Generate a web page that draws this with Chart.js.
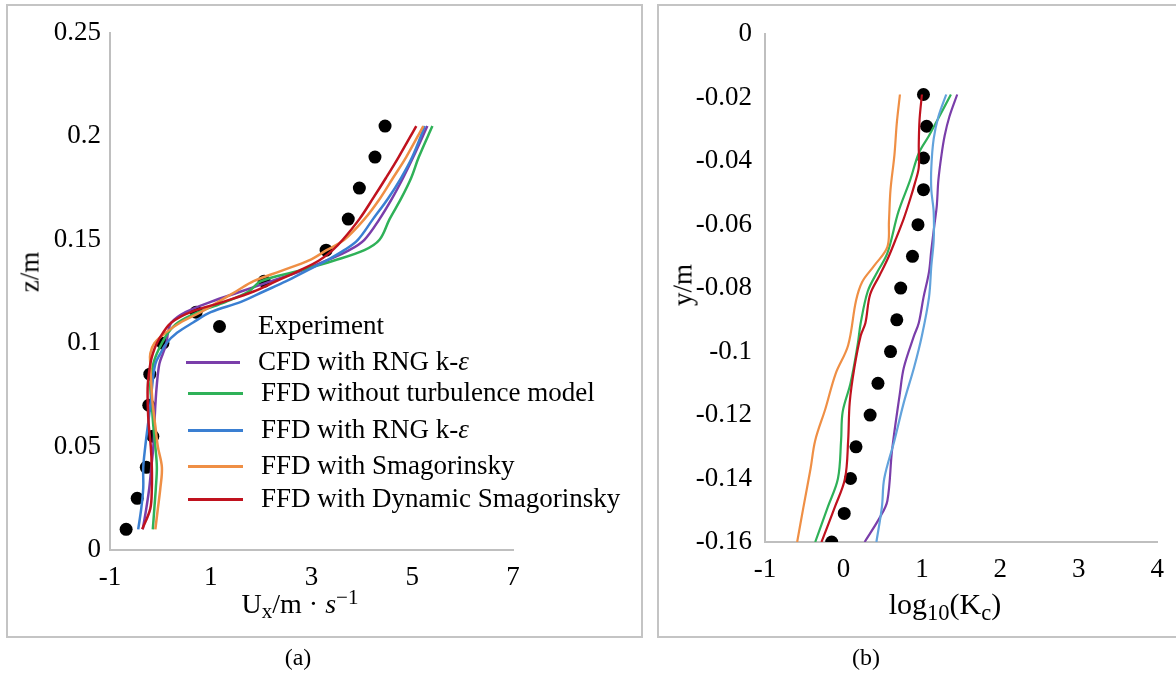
<!DOCTYPE html>
<html><head><meta charset="utf-8">
<script src="https://cdn.jsdelivr.net/npm/chart.js@4.4.1/dist/chart.umd.min.js"></script>
<style>
body{margin:0;background:#fff;width:1176px;height:675px;overflow:hidden;position:relative;font-family:'Liberation Serif','Times New Roman',serif;}
.box{position:absolute;border:2px solid #c4c4c4;box-sizing:border-box;}
canvas{position:absolute;}
.t{position:absolute;font-size:27px;color:#000;white-space:nowrap;line-height:1;transform:translate(-50%,-50%);}
.t sub{font-size:0.75em;vertical-align:-0.25em;line-height:0;}
.t sup{font-size:0.75em;vertical-align:0.45em;line-height:0;}
.lg{position:absolute;font-size:27px;white-space:nowrap;line-height:1;}
.lgline{position:absolute;height:3px;}
.lgdot{position:absolute;width:13px;height:13px;border-radius:50%;background:#000;}
</style></head><body>
<div class="box" style="left:6px;top:4px;width:637px;height:634px"></div>
<div class="box" style="left:657px;top:4px;width:560px;height:634px"></div>
<canvas id="ca" width="635" height="632" style="left:7px;top:5px"></canvas>
<canvas id="cb" width="518" height="632" style="left:658px;top:5px"></canvas>
<div class="t" style="left:30px;top:272px;transform:translate(-50%,-50%) rotate(-90deg)">z/m</div>
<div class="t" style="left:300px;top:604px;font-size:28px">U<sub>x</sub>/m · <i>s</i><sup>−1</sup></div>
<div class="t" style="left:683px;top:285px;transform:translate(-50%,-50%) rotate(-90deg)">y/m</div>
<div class="t" style="left:945px;top:604px;font-size:30px">log<sub>10</sub>(K<sub>c</sub>)</div>
<div class="t" style="left:298px;top:657px;font-size:24px">(a)</div>
<div class="t" style="left:866px;top:657px;font-size:24px">(b)</div>
<div id="legend"></div>
<script>
// ---------- Panel (a) data ----------
const seriesNames = ['Experiment','CFD with RNG k-ε','FFD without turbulence model','FFD with RNG k-ε','FFD with Smagorinsky','FFD with Dynamic Smagorinsky'];
const colorsA = ['#000000','#7a3eaa','#2fb158','#3a7fd2','#ef8f45','#c0121e'];
const colorsB = ['#000000','#7a3eaa','#2fb158','#62a3dc','#ef8f45','#c0121e'];

const expZ = [0.01,0.025,0.04,0.055,0.07,0.085,0.1,0.115,0.13,0.145,0.16,0.175,0.19,0.205];
const expU = [-0.68,-0.46,-0.28,-0.15,-0.23,-0.21,0.05,0.71,2.06,3.29,3.73,3.95,4.26,4.46];

const zGrid = [0.01,0.02,0.03,0.04,0.05,0.06,0.07,0.08,0.09,0.095,0.1,0.105,0.11,0.115,0.12,0.125,0.13,0.135,0.14,0.145,0.15,0.16,0.17,0.18,0.19,0.205];
const uCFD_RNG   = [-0.35,-0.28,-0.22,-0.18,-0.14,-0.12,-0.10,-0.07,-0.02,0.05,0.12,0.15,0.22,0.50,1.00,1.60,2.20,2.80,3.30,3.75,4.05,4.35,4.60,4.82,5.02,5.30];
const uFFD_noTurb= [-0.15,-0.12,-0.09,-0.07,-0.10,-0.14,-0.17,-0.20,-0.14,-0.07,0.03,0.15,0.35,0.75,1.30,1.75,2.00,2.75,3.45,4.05,4.35,4.55,4.78,4.98,5.13,5.40];
const uFFD_RNG   = [-0.44,-0.38,-0.34,-0.34,-0.30,-0.25,-0.20,-0.16,-0.10,0.00,0.12,0.33,0.65,1.00,1.60,2.05,2.50,2.90,3.30,3.65,3.92,4.22,4.52,4.78,5.00,5.25];
const uFFD_Smag  = [-0.10,-0.05,0.00,0.03,-0.05,-0.10,-0.15,-0.18,-0.20,-0.20,-0.12,0.10,0.40,0.80,1.15,1.50,1.85,2.40,2.95,3.30,3.65,4.05,4.36,4.62,4.88,5.22];
const uFFD_DynSmag=[-0.36,-0.20,-0.17,-0.17,-0.19,-0.23,-0.25,-0.25,-0.20,-0.15,-0.07,0.05,0.22,0.60,1.25,1.85,2.30,2.75,3.15,3.42,3.62,3.95,4.22,4.48,4.73,5.08];

const xTicksA = [-1,1,3,5,7];
const xTickLabelsA = ['-1','1','3','5','7'];
const yTicksA = [0,0.05,0.1,0.15,0.2,0.25];
const yTickLabelsA = ['0','0.05','0.1','0.15','0.2','0.25'];

// ---------- Panel (b) data ----------
const expY_b = [-0.019,-0.029,-0.039,-0.049,-0.06,-0.07,-0.08,-0.09,-0.1,-0.11,-0.12,-0.13,-0.14,-0.151,-0.16];
const expK_b = [1.02,1.06,1.02,1.02,0.95,0.88,0.73,0.68,0.60,0.44,0.34,0.16,0.09,0.01,-0.15];

const yCFD_b = [-0.019,-0.026,-0.032,-0.038,-0.046,-0.054,-0.06,-0.068,-0.075,-0.083,-0.091,-0.095,-0.105,-0.113,-0.131,-0.147,-0.152,-0.16];
const kCFD_b = [1.45,1.35,1.29,1.25,1.21,1.19,1.16,1.12,1.09,1.02,0.96,0.90,0.77,0.72,0.62,0.56,0.47,0.27];
const yNoTurb_b = [-0.019,-0.026,-0.032,-0.0375,-0.046,-0.056,-0.069,-0.075,-0.081,-0.091,-0.098,-0.11,-0.119,-0.128,-0.14,-0.149,-0.16];
const kNoTurb_b = [1.37,1.22,1.09,0.96,0.85,0.70,0.56,0.43,0.31,0.22,0.18,0.09,-0.01,-0.03,-0.07,-0.20,-0.36];
const yRNG_b = [-0.019,-0.026,-0.033,-0.042,-0.049,-0.056,-0.065,-0.073,-0.083,-0.095,-0.105,-0.116,-0.128,-0.14,-0.149,-0.16];
const kRNG_b = [1.31,1.21,1.15,1.12,1.12,1.15,1.15,1.12,1.09,1.00,0.90,0.77,0.65,0.52,0.49,0.42];
const ySmag_b = [-0.019,-0.028,-0.038,-0.049,-0.059,-0.067,-0.073,-0.078,-0.084,-0.098,-0.107,-0.118,-0.128,-0.137,-0.149,-0.16];
const kSmag_b = [0.72,0.68,0.65,0.60,0.58,0.56,0.39,0.24,0.16,0.06,-0.10,-0.23,-0.36,-0.42,-0.51,-0.59];
const yDyn_b = [-0.019,-0.027,-0.035,-0.042,-0.047,-0.052,-0.058,-0.065,-0.071,-0.076,-0.082,-0.091,-0.095,-0.105,-0.116,-0.128,-0.14,-0.149,-0.16];
const kDyn_b = [1.00,0.97,0.96,0.96,0.91,0.85,0.77,0.66,0.56,0.46,0.34,0.28,0.22,0.14,0.08,0.06,0.02,-0.11,-0.28];

const xTicksB = [-1,0,1,2,3,4];
const xTickLabelsB = ['-1','0','1','2','3','4'];
const yTicksB = [-0.16,-0.14,-0.12,-0.1,-0.08,-0.06,-0.04,-0.02,0];
const yTickLabelsB = ['-0.16','-0.14','-0.12','-0.1','-0.08','-0.06','-0.04','-0.02','0'];

// ---------- helpers ----------
const pts = (xs, ys) => xs.map((x,i)=>({x:x, y:ys[i]}));
const FONT = {family:"'Liberation Serif','Times New Roman',serif", size:27};

function lineDs(label, data, color, order, width){
  return {label, data, showLine:true, borderColor:color, backgroundColor:color,
          borderWidth:width, pointRadius:0, tension:0.35, order, fill:false};
}
function expDs(data){
  return {label:seriesNames[0], data, showLine:false, pointRadius:6.5, pointHoverRadius:6.5,
          backgroundColor:'#000', borderWidth:0, order:20};
}
function mkScale(min,max,ticks,labels,fit,isX,pad){
  return {type:'linear', min, max,
    grid:{display:false, drawTicks:false},
    border:{display:true, color:'#bfbfbf', width:2},
    ticks:{font:FONT, color:'#000', padding:pad, autoSkip:false, maxRotation:0, minRotation:0,
           callback:(v,i)=>labels[i]},
    afterBuildTicks:s=>{ s.ticks = ticks.map(v=>({value:v})); },
    afterFit:s=>{ if(isX) s.height = fit; else s.width = fit; }
  };
}

// ---------- Chart (a) ----------
new Chart(document.getElementById('ca'), {
  type:'scatter',
  data:{datasets:[
    expDs(pts(expU, expZ)),
    lineDs(seriesNames[1], pts(uCFD_RNG, zGrid), colorsA[1], 5, 2.5),
    lineDs(seriesNames[2], pts(uFFD_noTurb, zGrid), colorsA[2], 4, 2.5),
    lineDs(seriesNames[3], pts(uFFD_RNG, zGrid), colorsA[3], 3, 2.5),
    lineDs(seriesNames[4], pts(uFFD_Smag, zGrid), colorsA[4], 2, 2.5),
    lineDs(seriesNames[5], pts(uFFD_DynSmag, zGrid), colorsA[5], 1, 2.5)
  ]},
  options:{
    responsive:false, animation:false, events:[],
    layout:{padding:{left:0, top:28, right:129, bottom:0}},
    plugins:{legend:{display:false}, tooltip:{enabled:false}},
    scales:{
      x: mkScale(-1, 7, xTicksA, xTickLabelsA, 87, true, 12),
      y: mkScale(0, 0.25, yTicksA, yTickLabelsA, 103, false, 9)
    }
  }
});

// ---------- Chart (b) ----------
new Chart(document.getElementById('cb'), {
  type:'scatter',
  data:{datasets:[
    expDs(pts(expK_b, expY_b)),
    lineDs(seriesNames[1], pts(kCFD_b, yCFD_b), colorsB[1], 5, 2.2),
    lineDs(seriesNames[2], pts(kNoTurb_b, yNoTurb_b), colorsB[2], 4, 2.2),
    lineDs(seriesNames[3], pts(kRNG_b, yRNG_b), colorsB[3], 3, 2.2),
    lineDs(seriesNames[4], pts(kSmag_b, ySmag_b), colorsB[4], 2, 2.2),
    lineDs(seriesNames[5], pts(kDyn_b, yDyn_b), colorsB[5], 1, 2.2)
  ]},
  options:{
    responsive:false, animation:false, events:[],
    layout:{padding:{left:0, top:25, right:12, bottom:0}},
    plugins:{legend:{display:false}, tooltip:{enabled:false}},
    scales:{
      x: mkScale(-1, 4, xTicksB, xTickLabelsB, 95, true, 12),
      y: mkScale(-0.16, 0, yTicksB, yTickLabelsB, 107, false, 13)
    }
  }
});

// ---------- Legend (panel a) ----------
(function(){
  const lg = document.getElementById('legend');
  const rowY = [326, 362, 393, 430, 466, 499];
  seriesNames.forEach((name,i)=>{
    if(i===0){
      const d = document.createElement('div'); d.className='lgdot';
      d.style.left=(219-6.5)+'px'; d.style.top=(rowY[i]-6.5)+'px'; lg.appendChild(d);
    } else {
      const l = document.createElement('div'); l.className='lgline';
      l.style.left=(i===1?'186px':'188px'); l.style.width=(i===1?'54px':'55px'); l.style.top=(rowY[i]-1.5)+'px';
      l.style.background=colorsA[i]; lg.appendChild(l);
    }
    const t = document.createElement('div'); t.className='lg';
    t.style.left=(i<=1?'258px':'261px'); t.style.top=(rowY[i]-14)+'px';
    t.innerHTML = name.replace('ε','<i>ε</i>');
    lg.appendChild(t);
  });
})();
</script>
</body></html>
